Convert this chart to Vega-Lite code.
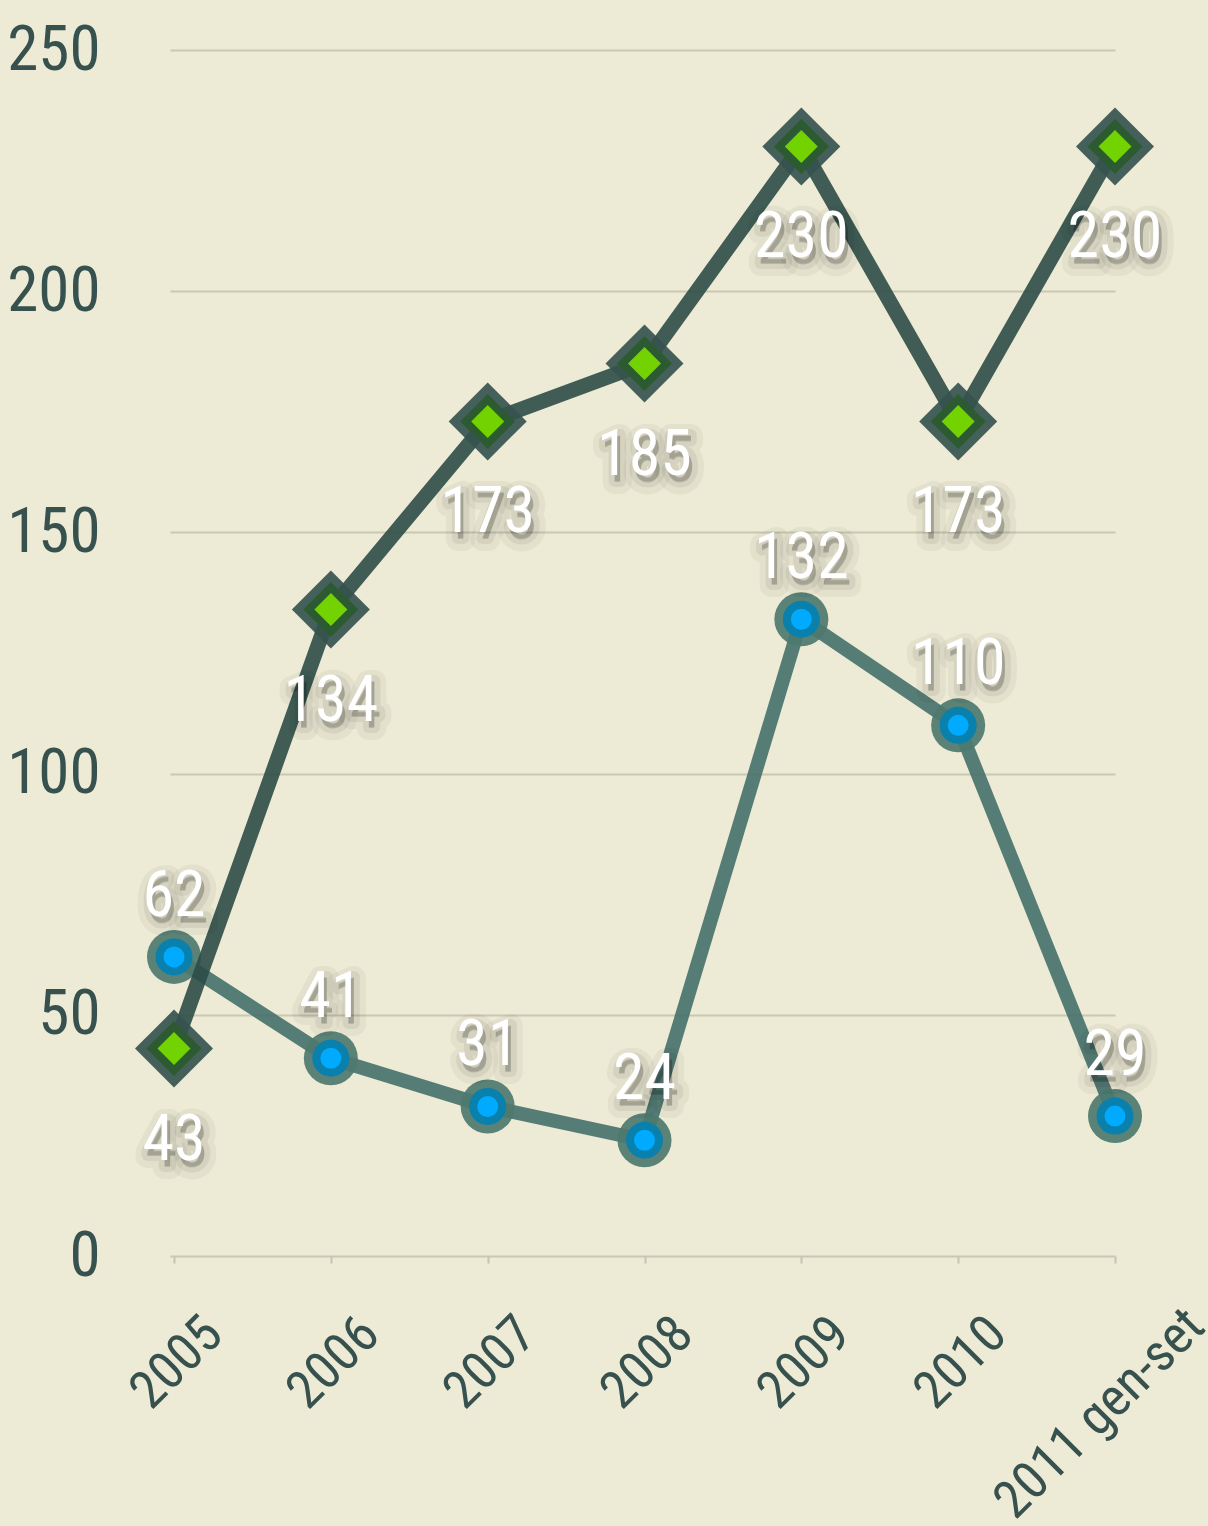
{
  "$schema": "https://vega.github.io/schema/vega-lite/v6.json",
  "width": 945,
  "height": 1206,
  "autosize": {"type": "none"},
  "padding": {"left": 170, "top": 50, "right": 93, "bottom": 270},
  "background": "#EDEAD5",
  "config": {
    "view": {"stroke": null},
    "font": "Roboto Condensed"
  },
  "data": {
    "values": [
      {"year": "2005", "series": "A", "value": 43},
      {"year": "2006", "series": "A", "value": 134},
      {"year": "2007", "series": "A", "value": 173},
      {"year": "2008", "series": "A", "value": 185},
      {"year": "2009", "series": "A", "value": 230},
      {"year": "2010", "series": "A", "value": 173},
      {"year": "2011 gen-set", "series": "A", "value": 230},
      {"year": "2005", "series": "B", "value": 62},
      {"year": "2006", "series": "B", "value": 41},
      {"year": "2007", "series": "B", "value": 31},
      {"year": "2008", "series": "B", "value": 24},
      {"year": "2009", "series": "B", "value": 132},
      {"year": "2010", "series": "B", "value": 110},
      {"year": "2011 gen-set", "series": "B", "value": 29}
    ]
  },
  "encoding": {
    "x": {
      "field": "year", "type": "ordinal", "sort": null,
      "scale": {"type": "point", "padding": 0.0128, "align": 1},
      "axis": {
        "title": null, "domain": false, "grid": false,
        "ticks": true, "tickSize": 7, "tickWidth": 2, "tickColor": "#C5C5B2",
        "labelAngle": -45, "labelFont": "Roboto Condensed",
        "labelFontSize": 53, "labelColor": "#37514F", "labelLimit": 0,
        "labelPadding": {"condition": {"test": "datum.value === '2011 gen-set'", "value": 36}, "value": 44},
        "labelOffset": {"condition": {"test": "datum.value === '2011 gen-set'", "value": 62}, "value": 21}
      }
    },
    "y": {
      "field": "value", "type": "quantitative",
      "scale": {"domain": [0, 250], "nice": false, "zero": true},
      "axis": {
        "title": null, "domain": false, "ticks": false,
        "values": [0, 50, 100, 150, 200, 250],
        "grid": true, "gridColor": "#C9C8B3", "gridWidth": 2,
        "labelFont": "Roboto Condensed", "labelFontSize": 63,
        "labelColor": "#37514F", "labelPadding": 70
      }
    }
  },
  "layer": [
    {
      "transform": [{"filter": "datum.series === 'B'"}],
      "mark": {"type": "line", "color": "#44706A", "strokeWidth": 14, "opacity": 0.9, "strokeJoin": "round"}
    },
    {
      "transform": [{"filter": "datum.series === 'B'"}],
      "mark": {"type": "point", "shape": "circle", "filled": true, "size": 2916, "color": "#4D786F", "opacity": 0.92}
    },
    {
      "transform": [{"filter": "datum.series === 'B'"}],
      "mark": {"type": "point", "shape": "circle", "filled": true, "size": 1369, "color": "#0A80AC", "opacity": 1}
    },
    {
      "transform": [{"filter": "datum.series === 'B'"}],
      "mark": {"type": "point", "shape": "circle", "filled": true, "size": 441, "color": "#00AAFF", "opacity": 1}
    },
    {
      "transform": [{"filter": "datum.series === 'A'"}],
      "mark": {"type": "line", "color": "#2C4C47", "strokeWidth": 15, "opacity": 0.9, "strokeJoin": "round"}
    },
    {
      "transform": [{"filter": "datum.series === 'A'"}],
      "mark": {"type": "point", "shape": "diamond", "filled": true, "size": 6084, "color": "#36534F", "opacity": 0.92}
    },
    {
      "transform": [{"filter": "datum.series === 'A'"}],
      "mark": {"type": "point", "shape": "diamond", "filled": true, "size": 3025, "color": "#2D5B31", "opacity": 1}
    },
    {
      "transform": [{"filter": "datum.series === 'A'"}],
      "mark": {"type": "point", "shape": "diamond", "filled": true, "size": 1089, "color": "#72D300", "opacity": 1}
    },
    {
      "transform": [{"filter": "datum.series === 'A'"}],
      "mark": {"type": "text", "dy": 99, "dx": 3, "fontSize": 64, "fill": "#000000", "fillOpacity": 0.14, "stroke": "#000000", "strokeOpacity": 0.04, "strokeWidth": 24, "strokeJoin": "round"},
      "encoding": {"text": {"field": "value", "type": "quantitative"}}
    },
    {
      "transform": [{"filter": "datum.series === 'A'"}],
      "mark": {"type": "text", "dy": 98, "dx": 3, "fontSize": 64, "fill": "#000000", "fillOpacity": 0.1, "stroke": "#000000", "strokeOpacity": 0.06, "strokeWidth": 12, "strokeJoin": "round"},
      "encoding": {"text": {"field": "value", "type": "quantitative"}}
    },
    {
      "transform": [{"filter": "datum.series === 'A'"}],
      "mark": {"type": "text", "dy": 92, "fontSize": 64, "fill": "#FFFFFF"},
      "encoding": {"text": {"field": "value", "type": "quantitative"}}
    },
    {
      "transform": [{"filter": "datum.series === 'B'"}],
      "mark": {"type": "text", "dy": -53, "dx": 3, "fontSize": 64, "fill": "#000000", "fillOpacity": 0.14, "stroke": "#000000", "strokeOpacity": 0.04, "strokeWidth": 24, "strokeJoin": "round"},
      "encoding": {"text": {"field": "value", "type": "quantitative"}}
    },
    {
      "transform": [{"filter": "datum.series === 'B'"}],
      "mark": {"type": "text", "dy": -54, "dx": 3, "fontSize": 64, "fill": "#000000", "fillOpacity": 0.1, "stroke": "#000000", "strokeOpacity": 0.06, "strokeWidth": 12, "strokeJoin": "round"},
      "encoding": {"text": {"field": "value", "type": "quantitative"}}
    },
    {
      "transform": [{"filter": "datum.series === 'B'"}],
      "mark": {"type": "text", "dy": -60, "fontSize": 64, "fill": "#FFFFFF"},
      "encoding": {"text": {"field": "value", "type": "quantitative"}}
    }
  ]
}
